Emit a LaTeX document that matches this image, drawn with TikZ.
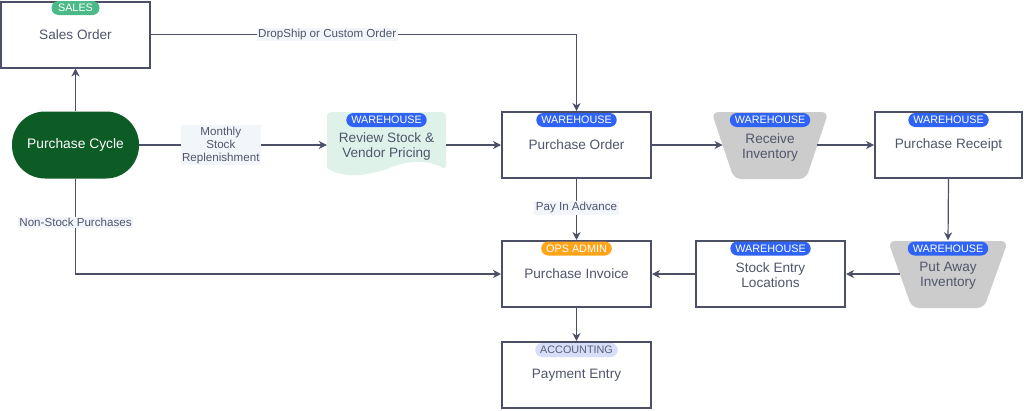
\documentclass[tikz,border=0pt]{standalone}
\usepackage{fontspec}
\setmainfont{Liberation Sans}
\usetikzlibrary{arrows.meta}
\definecolor{ink}{HTML}{4B5066}
\definecolor{txt}{HTML}{50566B}
\definecolor{whblue}{HTML}{2F63F6}
\definecolor{salesgreen}{HTML}{4CBA88}
\definecolor{opsorange}{HTML}{FFA41B}
\definecolor{acclight}{HTML}{D6DEFA}
\definecolor{acctext}{HTML}{5A6072}
\definecolor{pcgreen}{HTML}{0D5C26}
\definecolor{mint}{HTML}{DFF2EA}
\definecolor{trapgray}{HTML}{CCCCCC}
\definecolor{lblbg}{HTML}{F2F5FA}
\begin{document}
\begin{tikzpicture}[x=1pt,y=-1pt,
  box/.style={draw=ink, line width=2pt, fill=white, minimum width=149pt, minimum height=66pt,
    inner sep=0pt, text=txt, font=\fontsize{13.6}{15}\selectfont, align=center},
  ghost/.style={minimum width=#1, minimum height=67pt, inner sep=0pt},
  gtext/.style={text=txt, font=\fontsize{13.6}{15}\selectfont, align=center, yshift=-2pt, inner sep=0pt},
  badge/.style={fill=#1, rounded corners=7pt, minimum height=14pt, inner xsep=5pt, inner ysep=0pt,
    text=white, font=\fontsize{10.8}{11}\selectfont},
  arr/.style={draw=ink, line width=1.2pt, -{Stealth[length=8pt,width=8pt,inset=2.5pt]}},
  lbl/.style={fill=lblbg, text=txt, font=\fontsize{11.6}{13}\selectfont, inner sep=1.5pt, align=center},
  trap/.style={fill=trapgray, rounded corners=7pt}
]
\useasboundingbox (0,0) rectangle (1024,410);

% shapes drawn directly
\fill[mint, rounded corners=4pt] (327,168) -- (327,112) -- (446,112) -- (446,170)
  [sharp corners] .. controls (430,160) and (410,160) .. (392,167)
  .. controls (372,175) and (345,180) .. (327,168) -- cycle;
\fill[trap] (711.5,112) -- (828.5,112) -- (806,179) -- (734,179) -- cycle;
\fill[trap] (888,241) -- (1008,241) -- (984,308) -- (912,308) -- cycle;

% nodes
\node[box] (so) at (75.5,34.5) {Sales Order};
\node[fill=pcgreen, rounded corners=33pt, minimum width=127pt, minimum height=67pt, inner sep=0pt,
  text=white, font=\fontsize{13.8}{15}\selectfont] (pc) at (75.5,145) {Purchase Cycle};
\node[ghost=119pt, label={[gtext, yshift=1pt]center:{Review Stock \&\\Vendor Pricing}}] (rs) at (386.5,145) {};
\node[box] (po) at (576.5,145) {Purchase Order};
\node[ghost=94.5pt, label={[gtext]center:{Receive\\Inventory}}] (ri) at (770,145) {};
\node[box, minimum width=147pt] (pr) at (948.5,145) {Purchase Receipt};
\node[ghost=96pt, label={[gtext]center:{Put Away\\Inventory}}] (pa) at (948,274) {};
\node[box, label={[gtext, yshift=1pt]center:{Stock Entry\\Locations}}] (se) at (770.5,274) {};
\node[box] (pi) at (576.5,274) {Purchase Invoice};
\node[box] (pe) at (576.5,375) {Payment Entry};

% badges
\node[badge=salesgreen, minimum width=48pt] (bso) at (75.5,8) {SALES};
\node[badge=whblue] (brs) at (386.5,120) {WAREHOUSE};
\node[badge=whblue] (bpo) at (576.5,120) {WAREHOUSE};
\node[badge=whblue] (bri) at (770,120) {WAREHOUSE};
\node[badge=whblue] (bpr) at (948.5,120) {WAREHOUSE};
\node[badge=whblue] (bpa) at (948,248.5) {WAREHOUSE};
\node[badge=whblue] (bse) at (770.5,248.5) {WAREHOUSE};
\node[badge=opsorange] (bpi) at (576.5,248.5) {OPS ADMIN};
\node[badge=acclight, text=acctext] (bpe) at (576.5,350) {ACCOUNTING};

% connectors
\draw[arr] (pc.north) -- (so.south);
\draw[arr] (so.east) -| node[lbl, pos=0.207] (l1) {DropShip or Custom Order} (po.north);
\draw[arr] (pc.east) -- node[lbl, pos=0.435] (l2) {Monthly\\Stock\\Replenishment} (rs.west);
\draw[arr] (rs.east) -- (po.west);
\draw[arr] (po.east) -- (ri.west);
\draw[arr] (ri.east) -- (pr.west);
\draw[arr] (pr.south) -- (pa.north);
\draw[arr] (pa.west) -- (se.east);
\draw[arr] (se.west) -- (pi.east);
\draw[arr] (po.south) -- node[lbl, pos=0.47] (l3) {Pay In Advance} (pi.north);
\draw[arr] (pc.south) |- node[lbl, pos=0.23] (l4) {Non-Stock Purchases} (pi.west);
\draw[arr] (pi.south) -- (pe.north);
\end{tikzpicture}
\end{document}
